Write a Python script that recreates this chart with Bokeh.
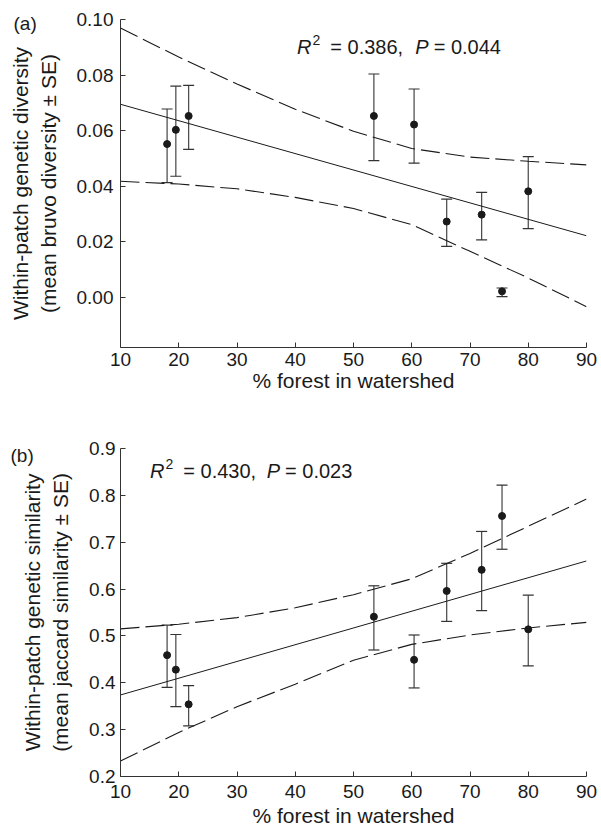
from bokeh.plotting import figure
from bokeh.models import (Range1d, FixedTicker, NumeralTickFormatter, Label,
                          Whisker, ColumnDataSource, TeeHead)
from bokeh.layouts import column
from bokeh.embed import file_html
from bokeh.resources import INLINE

# ---------------- data ----------------
forest = [18.0, 19.5, 21.7, 53.5, 60.4, 66.0, 72.0, 75.5, 80.0]

div_mean = [0.0552, 0.0603, 0.0653, 0.0653, 0.0622, 0.0273, 0.0298, 0.0022, 0.0382]
div_hi = [0.0678, 0.0760, 0.0763, 0.0804, 0.0750, 0.0354, 0.0378, 0.0034, 0.0507]
div_lo = [0.0413, 0.0436, 0.0533, 0.0492, 0.0483, 0.0184, 0.0207, 0.0003, 0.0248]

sim_mean = [0.459, 0.428, 0.354, 0.541, 0.449, 0.596, 0.641, 0.756, 0.514]
sim_hi = [0.523, 0.503, 0.394, 0.607, 0.502, 0.655, 0.723, 0.822, 0.587]
sim_lo = [0.390, 0.349, 0.308, 0.470, 0.389, 0.531, 0.554, 0.685, 0.436]

fit_x = [10, 90]
div_fit = [0.0695, 0.0222]
sim_fit = [0.374, 0.660]

band_x = [10, 20, 30, 40, 50, 60, 70, 80, 90]
div_band_hi = [0.0969, 0.0865, 0.0768, 0.0677, 0.0598, 0.0536, 0.0505, 0.0490, 0.0477]
div_band_lo = [0.0418, 0.0408, 0.0391, 0.0360, 0.0320, 0.0262, 0.0166, 0.0070, -0.0033]
sim_band_hi = [0.515, 0.525, 0.539, 0.560, 0.588, 0.622, 0.676, 0.734, 0.792]
sim_band_lo = [0.233, 0.294, 0.349, 0.397, 0.448, 0.482, 0.502, 0.517, 0.529]

x_ticks = [10, 20, 30, 40, 50, 60, 70, 80, 90]
div_ticks = [0.00, 0.02, 0.04, 0.06, 0.08, 0.10]
sim_ticks = [0.2, 0.3, 0.4, 0.5, 0.6, 0.7, 0.8, 0.9]

x_title = "% forest in watershed"
div_title = "Within-patch genetic diversity\n(mean bruvo diversity \u00b1 SE)"
sim_title = "Within-patch genetic similarity\n(mean jaccard similarity \u00b1 SE)"

FONT = "Liberation Sans"
INK = "#1a1a1a"


def make_panel(width, height, borders, yrange, yticks, yfmt, ytitle, mean, hi, lo, fit,
               bhi, blo, x_standoff, y_standoff, xlab_standoff):
    left, right, top, bottom = borders
    p = figure(width=width, height=height, output_backend="svg", toolbar_location=None,
               x_range=Range1d(10, 90), y_range=Range1d(*yrange),
               min_border_left=left, min_border_right=right,
               min_border_top=top, min_border_bottom=bottom)
    p.outline_line_color = None
    p.background_fill_color = "white"
    p.border_fill_color = "white"
    p.xgrid.grid_line_color = None
    p.ygrid.grid_line_color = None
    for ax, ticks, standoff in ((p.xaxis[0], x_ticks, x_standoff), (p.yaxis[0], yticks, y_standoff)):
        ax.ticker = FixedTicker(ticks=ticks)
        ax.minor_tick_line_color = None
        ax.major_tick_in = 5
        ax.major_tick_out = 0
        ax.axis_line_color = "#333333"
        ax.major_tick_line_color = "#333333"
        ax.major_label_text_font = FONT
        ax.major_label_text_font_size = "19px"
        ax.major_label_text_color = INK
        ax.major_label_standoff = standoff
        ax.axis_label_text_font = FONT
        ax.axis_label_text_font_size = "21px"
        ax.axis_label_text_font_style = "normal"
        ax.axis_label_text_color = INK
    p.yaxis[0].formatter = NumeralTickFormatter(format=yfmt)
    p.yaxis[0].axis_label = ytitle
    p.yaxis[0].axis_label_standoff = 14
    p.xaxis[0].axis_label = x_title
    p.xaxis[0].axis_label_standoff = xlab_standoff

    # regression line and confidence bands
    p.line(fit_x, fit, line_color=INK, line_width=1)
    p.line(band_x, bhi, line_color=INK, line_width=1.1, line_dash="19 6")
    p.line(band_x, blo, line_color=INK, line_width=1.1, line_dash="19 6")

    src = ColumnDataSource(dict(x=forest, y=mean, hi=hi, lo=lo))
    p.add_layout(Whisker(base="x", upper="hi", lower="lo", source=src,
                         line_color="#444444", line_width=1.2,
                         upper_head=TeeHead(size=11, line_color="#333333", line_width=1.2),
                         lower_head=TeeHead(size=11, line_color="#333333", line_width=1.2)))
    p.scatter("x", "y", source=src, size=7, marker="circle",
              fill_color=INK, line_color=INK)
    return p


def lab(p, x, y, text, size, xo=0, yo=0, style="normal", place=None):
    l = Label(x=x, y=y, text=text, x_offset=xo, y_offset=yo,
              text_font=FONT, text_font_size=size, text_font_style=style,
              text_color=INK, text_align="left", text_baseline="alphabetic")
    if place is None:
        p.add_layout(l)
    else:
        p.add_layout(l, place)


# ---------------- panel (a) ----------------
pa = make_panel(601, 420, (117, 15, 19, 73), (-0.018, 0.10), div_ticks, "0.00", div_title,
                div_mean, div_hi, div_lo, div_fit, div_band_hi, div_band_lo,
                x_standoff=5, y_standoff=7, xlab_standoff=0)
lab(pa, 10, 0.0985, "(a)", "19px", xo=-107, place="below")
ax_, ay_ = 40.3, 0.090
lab(pa, ax_, ay_, "R", "20px", style="italic")
lab(pa, ax_, ay_, "2", "14px", xo=15.5, yo=7)
lab(pa, ax_, ay_, "= 0.386,", "20px", xo=33.3)
lab(pa, ax_, ay_, "P", "20px", xo=118.3, style="italic")
lab(pa, ax_, ay_, "= 0.044", "20px", xo=136.7)

# ---------------- panel (b) ----------------
pb = make_panel(601, 413, (120, 12, 28, 57), (0.2, 0.9), sim_ticks, "0.0", sim_title,
                sim_mean, sim_hi, sim_lo, sim_fit, sim_band_hi, sim_band_lo,
                x_standoff=8, y_standoff=5, xlab_standoff=3)
lab(pb, 10, 0.8850, "(b)", "19px", xo=-110, place="above")
bx_, by_ = 15.07, 0.852
lab(pb, bx_, by_, "R", "20px", style="italic")
lab(pb, bx_, by_, "2", "14px", xo=15.5, yo=7)
lab(pb, bx_, by_, "= 0.430,", "20px", xo=33.3)
lab(pb, bx_, by_, "P", "20px", xo=116.7, style="italic")
lab(pb, bx_, by_, "= 0.023", "20px", xo=135)

layout = column(pa, pb, spacing=0)
open("out.html", "w").write(file_html(layout, INLINE))
